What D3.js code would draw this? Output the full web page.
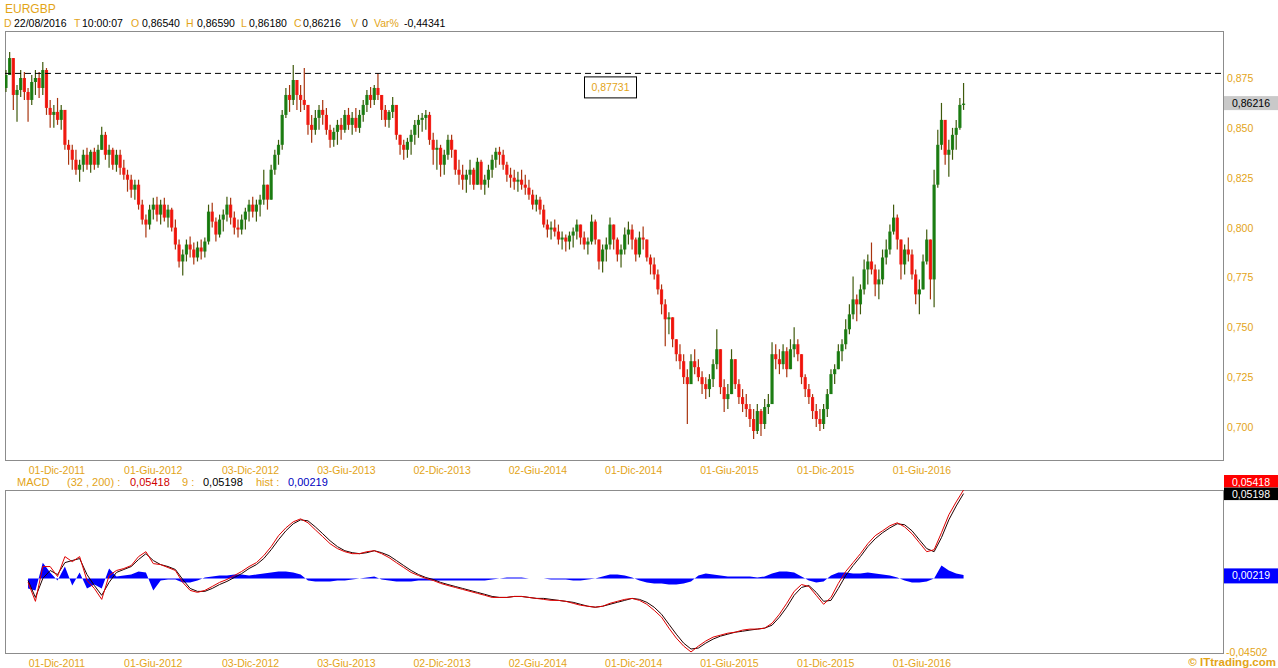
<!DOCTYPE html>
<html><head><meta charset="utf-8">
<script src="https://cdn.jsdelivr.net/npm/d3@7"></script>
<style>body{margin:0;background:#fff;}svg{display:block;font-family:"Liberation Sans",Arial,sans-serif;}</style>
</head><body><svg id="c" width="1278" height="668"></svg>
<script>
// ---------- DATA (weekly bars) ----------
const symbol = "EURGBP";
const firstWeek = "2011-08-26";
const firstOpen = 0.8700;
const high = [
0.879,0.888,0.885,0.8715,0.879,0.878,0.870,0.8765,0.879,0.878,
0.883,0.880,0.864,0.8615,0.865,0.8615,0.859,0.844,0.8415,0.839,
0.834,0.839,0.840,0.839,0.840,0.8415,0.8505,0.848,0.8415,0.840,
0.839,0.839,0.834,0.829,0.8265,0.824,0.824,0.814,0.8065,0.8115,
0.815,0.8155,0.814,0.815,0.8115,0.810,0.804,0.794,0.789,0.794,
0.7955,0.7925,0.793,0.794,0.795,0.8115,0.8125,0.805,0.8065,0.809,
0.8155,0.815,0.808,0.804,0.8065,0.810,0.814,0.8155,0.814,0.8165,
0.829,0.8215,0.8315,0.839,0.844,0.859,0.870,0.8715,0.8815,0.874,
0.8715,0.880,0.8615,0.8565,0.859,0.8615,0.864,0.860,0.8515,0.850,
0.854,0.855,0.859,0.860,0.858,0.860,0.859,0.864,0.869,0.8705,
0.8715,0.8775,0.8665,0.8615,0.859,0.8655,0.8615,0.8465,0.844,0.845,
0.849,0.854,0.8565,0.8575,0.859,0.858,0.8475,0.844,0.8415,0.839,
0.8465,0.8465,0.839,0.834,0.8315,0.829,0.834,0.830,0.835,0.834,
0.8265,0.8315,0.8365,0.840,0.8405,0.839,0.833,0.830,0.829,0.828,
0.829,0.8265,0.824,0.819,0.8165,0.8155,0.8115,0.804,0.803,0.804,
0.8015,0.798,0.7965,0.798,0.800,0.804,0.8015,0.798,0.795,0.8065,
0.804,0.794,0.7915,0.795,0.805,0.8015,0.795,0.7915,0.800,0.803,
0.8015,0.795,0.798,0.8005,0.794,0.7865,0.785,0.779,0.7715,0.764,
0.7575,0.755,0.744,0.7415,0.7365,0.729,0.7365,0.739,0.734,0.728,
0.725,0.7265,0.734,0.749,0.739,0.724,0.7215,0.739,0.734,0.724,
0.719,0.7165,0.7115,0.709,0.7115,0.709,0.714,0.7165,0.7425,0.7415,
0.739,0.7415,0.740,0.744,0.750,0.744,0.7365,0.7265,0.7215,0.7165,
0.7115,0.709,0.7115,0.719,0.729,0.7315,0.7415,0.744,0.754,0.7615,
0.7755,0.7665,0.7715,0.784,0.7865,0.7925,0.7815,0.779,0.789,0.794,
0.8015,0.8115,0.8065,0.794,0.7915,0.795,0.789,0.779,0.774,0.7865,
0.799,0.794,0.829,0.849,0.8625,0.854,0.844,0.850,0.854,0.865,0.8725];
const low = [
0.868,0.8765,0.859,0.853,0.8655,0.864,0.853,0.8615,0.8665,0.865,
0.8665,0.8565,0.850,0.850,0.8515,0.849,0.839,0.8315,0.829,0.8265,
0.823,0.828,0.829,0.8275,0.829,0.830,0.839,0.834,0.830,0.829,
0.828,0.8265,0.824,0.818,0.815,0.814,0.809,0.8015,0.795,0.799,
0.804,0.803,0.8015,0.803,0.800,0.798,0.789,0.780,0.776,0.783,
0.785,0.7815,0.783,0.784,0.785,0.7915,0.800,0.793,0.795,0.798,
0.803,0.8015,0.7965,0.795,0.7965,0.799,0.803,0.805,0.803,0.8055,
0.8115,0.809,0.814,0.8265,0.8315,0.839,0.855,0.858,0.8615,0.859,
0.858,0.859,0.8465,0.8425,0.8465,0.849,0.8515,0.8465,0.840,0.8405,
0.8415,0.844,0.8475,0.849,0.8465,0.848,0.8475,0.853,0.858,0.860,
0.8615,0.864,0.854,0.8505,0.850,0.855,0.844,0.8365,0.834,0.835,
0.8365,0.8415,0.845,0.848,0.849,0.8415,0.8315,0.829,0.8255,0.8265,
0.834,0.835,0.8265,0.8215,0.819,0.8175,0.8215,0.819,0.8215,0.819,
0.8165,0.820,0.825,0.830,0.8315,0.829,0.823,0.820,0.819,0.818,
0.819,0.8165,0.814,0.809,0.808,0.8065,0.800,0.795,0.794,0.7955,
0.7915,0.789,0.788,0.789,0.790,0.794,0.7915,0.789,0.7865,0.7915,
0.7915,0.779,0.7775,0.783,0.789,0.789,0.783,0.780,0.7865,0.7915,
0.789,0.783,0.785,0.789,0.783,0.7765,0.774,0.7665,0.7565,0.7405,
0.7465,0.740,0.733,0.729,0.7215,0.7015,0.7215,0.7265,0.723,0.7165,
0.714,0.715,0.720,0.729,0.7165,0.7075,0.709,0.7165,0.719,0.7115,
0.7075,0.705,0.700,0.694,0.6965,0.6955,0.699,0.7065,0.7115,0.729,
0.7265,0.729,0.725,0.7315,0.735,0.733,0.7215,0.715,0.7115,0.704,
0.700,0.698,0.699,0.705,0.7165,0.7215,0.729,0.733,0.739,0.7465,
0.754,0.753,0.7565,0.7665,0.7715,0.7765,0.7655,0.764,0.7715,0.7815,
0.7865,0.7965,0.789,0.774,0.7765,0.783,0.774,0.7615,0.7565,0.769,
0.7815,0.764,0.760,0.820,0.839,0.8315,0.8255,0.834,0.839,0.849,0.859];
const close = [
0.8765,0.885,0.8665,0.869,0.875,0.868,0.864,0.873,0.875,0.870,
0.879,0.860,0.8565,0.858,0.854,0.859,0.8415,0.839,0.834,0.829,
0.8315,0.8365,0.8315,0.838,0.8315,0.839,0.8465,0.8365,0.839,0.8315,
0.8365,0.830,0.8265,0.824,0.819,0.8215,0.8115,0.804,0.8015,0.809,
0.8115,0.8065,0.8115,0.805,0.809,0.800,0.7915,0.783,0.7865,0.7915,
0.789,0.785,0.790,0.788,0.793,0.808,0.803,0.7965,0.804,0.8065,
0.8115,0.805,0.800,0.799,0.804,0.808,0.8115,0.808,0.8115,0.814,
0.8215,0.814,0.829,0.8365,0.8415,0.8565,0.8665,0.864,0.874,0.8665,
0.864,0.8615,0.8515,0.849,0.855,0.859,0.8565,0.849,0.844,0.848,
0.8515,0.849,0.8565,0.8515,0.855,0.850,0.8565,0.8615,0.8665,0.864,
0.870,0.8665,0.859,0.854,0.858,0.8615,0.8465,0.8415,0.839,0.843,
0.8465,0.8515,0.854,0.855,0.8565,0.844,0.839,0.840,0.8315,0.8365,
0.844,0.839,0.829,0.8265,0.824,0.8265,0.829,0.8215,0.833,0.8215,
0.824,0.829,0.834,0.838,0.8365,0.8315,0.8265,0.825,0.823,0.824,
0.8215,0.820,0.8165,0.8115,0.814,0.809,0.8015,0.799,0.800,0.798,
0.794,0.795,0.793,0.796,0.798,0.8015,0.795,0.7915,0.793,0.803,
0.794,0.783,0.789,0.7915,0.8015,0.794,0.7865,0.789,0.7965,0.799,
0.794,0.7865,0.795,0.794,0.785,0.7815,0.7765,0.769,0.7615,0.754,
0.755,0.744,0.7365,0.733,0.725,0.7215,0.733,0.730,0.725,0.7215,
0.719,0.724,0.7315,0.739,0.720,0.714,0.7165,0.734,0.7215,0.715,
0.7115,0.709,0.704,0.698,0.708,0.7015,0.710,0.7115,0.7365,0.734,
0.7315,0.738,0.729,0.739,0.7415,0.7365,0.725,0.719,0.715,0.708,
0.704,0.7015,0.709,0.7165,0.7265,0.729,0.738,0.7415,0.749,0.7565,
0.764,0.7615,0.769,0.779,0.783,0.779,0.7715,0.774,0.785,0.789,
0.798,0.805,0.794,0.7815,0.789,0.7865,0.7765,0.7665,0.769,0.783,
0.794,0.774,0.8215,0.8415,0.854,0.8365,0.839,0.8465,0.850,0.8615,0.86216];

// MACD(32,200), signal 9, histogram: one sample every 2 weeks from week 6
const macdFirstWeek = 6, macdWeekStep = 2;
const macdLine = [
-0.0024,-0.0140,0.0073,0.0073,0.0012,0.0134,0.0103,0.0134,-0.0012,-0.0061,
-0.0128,0.0018,0.0049,0.0061,0.0079,0.0134,0.0164,0.0091,0.0085,0.0067,
0.0049,-0.0024,-0.0073,-0.0085,-0.0073,-0.0049,-0.0024,-0.0006,0.0018,0.0043,
0.0073,0.0097,0.0140,0.0195,0.0262,0.0310,0.0347,0.0365,0.0341,0.0298,
0.0256,0.0213,0.0183,0.0164,0.0152,0.0152,0.0164,0.0170,0.0152,0.0128,
0.0097,0.0067,0.0037,0.0018,0.0000,-0.0012,-0.0030,-0.0043,-0.0055,-0.0067,
-0.0079,-0.0091,-0.0103,-0.0116,-0.0116,-0.0116,-0.0110,-0.0110,-0.0116,-0.0122,
-0.0128,-0.0134,-0.0134,-0.0140,-0.0152,-0.0164,-0.0170,-0.0176,-0.0170,-0.0152,
-0.0140,-0.0128,-0.0122,-0.0134,-0.0158,-0.0195,-0.0237,-0.0304,-0.0365,-0.0414,
-0.0450,-0.0414,-0.0383,-0.0359,-0.0347,-0.0335,-0.0329,-0.0316,-0.0310,-0.0310,
-0.0304,-0.0274,-0.0219,-0.0152,-0.0079,-0.0037,-0.0049,-0.0103,-0.0158,-0.0116,
-0.0030,0.0043,0.0097,0.0152,0.0213,0.0262,0.0292,0.0323,0.0341,0.0316,
0.0274,0.0219,0.0164,0.0176,0.0280,0.0390,0.0469,0.05418];
const signalLine = [
-0.0012,-0.0116,0.0000,0.0049,0.0024,0.0097,0.0110,0.0122,0.0024,-0.0043,
-0.0103,-0.0024,0.0037,0.0055,0.0073,0.0116,0.0152,0.0110,0.0085,0.0073,
0.0055,-0.0006,-0.0061,-0.0079,-0.0079,-0.0061,-0.0037,-0.0018,0.0006,0.0030,
0.0061,0.0085,0.0122,0.0176,0.0237,0.0292,0.0335,0.0359,0.0353,0.0316,
0.0274,0.0231,0.0195,0.0170,0.0158,0.0152,0.0158,0.0170,0.0158,0.0140,
0.0110,0.0079,0.0049,0.0024,0.0006,-0.0006,-0.0024,-0.0037,-0.0049,-0.0061,
-0.0073,-0.0085,-0.0097,-0.0110,-0.0116,-0.0116,-0.0110,-0.0110,-0.0116,-0.0122,
-0.0122,-0.0128,-0.0134,-0.0140,-0.0146,-0.0158,-0.0170,-0.0176,-0.0170,-0.0158,
-0.0146,-0.0134,-0.0122,-0.0128,-0.0146,-0.0176,-0.0219,-0.0280,-0.0341,-0.0396,
-0.0432,-0.0426,-0.0396,-0.0371,-0.0353,-0.0341,-0.0329,-0.0323,-0.0316,-0.0310,
-0.0304,-0.0286,-0.0237,-0.0176,-0.0103,-0.0055,-0.0043,-0.0085,-0.0140,-0.0134,
-0.0061,0.0018,0.0079,0.0134,0.0195,0.0243,0.0280,0.0310,0.0335,0.0329,
0.0292,0.0237,0.0183,0.0164,0.0250,0.0359,0.0444,0.05198];
const histValues = [
-0.0061,-0.0073,0.0097,0.0037,-0.0012,0.0073,-0.0043,0.0037,-0.0061,-0.0037,
-0.0061,0.0061,0.0012,0.0018,0.0024,0.0043,0.0037,-0.0073,-0.0012,-0.0006,
-0.0006,-0.0024,-0.0024,-0.0012,0.0006,0.0012,0.0018,0.0018,0.0024,0.0024,
0.0018,0.0024,0.0030,0.0037,0.0043,0.0043,0.0037,0.0024,-0.0012,-0.0018,
-0.0018,-0.0018,-0.0012,-0.0012,-0.0006,0.0000,0.0006,0.0012,-0.0006,-0.0012,
-0.0018,-0.0018,-0.0018,-0.0012,-0.0012,-0.0012,-0.0012,-0.0012,-0.0012,-0.0012,
-0.0012,-0.0012,-0.0012,-0.0006,0.0000,0.0006,0.0006,0.0006,0.0000,0.0000,
0.0000,-0.0006,-0.0006,-0.0006,-0.0012,-0.0012,-0.0006,0.0000,0.0012,0.0024,
0.0024,0.0018,0.0006,-0.0012,-0.0024,-0.0030,-0.0030,-0.0037,-0.0037,-0.0030,
-0.0018,0.0018,0.0030,0.0024,0.0018,0.0012,0.0012,0.0012,0.0012,0.0006,
0.0012,0.0030,0.0043,0.0043,0.0037,0.0012,-0.0012,-0.0024,-0.0018,0.0018,
0.0037,0.0037,0.0030,0.0030,0.0037,0.0030,0.0024,0.0018,0.0006,-0.0012,
-0.0024,-0.0024,-0.0018,0.0000,0.0079,0.0049,0.0030,0.00219];

const tickDates = ["2011-12-01","2012-06-01","2012-12-03","2013-06-03","2013-12-02","2014-06-02","2014-12-01","2015-06-01","2015-12-01","2016-06-01"];
const tickLabels = ["01-Dic-2011","01-Giu-2012","03-Dic-2012","03-Giu-2013","02-Dic-2013","02-Giu-2014","01-Dic-2014","01-Giu-2015","01-Dic-2015","01-Giu-2016"];
const priceTicks = [0.700,0.725,0.750,0.775,0.800,0.825,0.850,0.875];
const refLevel = 0.87731;
const macdMin = -0.04502, macdMax = 0.05418;
const lastDay = {date:"22/08/2016", time:"10:00:07", open:0.86540, high:0.86590, low:0.86180, close:0.86216, volume:0, varPct:-0.44341};
const macdParams = [32, 200, 9];

// ---------- DRAWING ----------
const ORANGE = "#e3a417", GRID = "#8c8c8c";
const svg = d3.select("#c");
const parse = d3.utcParse("%Y-%m-%d");
const fmt = (v, d) => d3.format("." + d + "f")(v).replace(".", ",").replace("−", "-");

const P = {l: 5, r: 1223, t: 31, b: 460};      // price panel
const M = {l: 5, r: 1223, t: 490, b: 653};     // MACD panel

const x = d3.scaleUtc().domain([parse(tickDates[0]), parse(tickDates[tickDates.length - 1])]).range([57, 922]);
const y = d3.scaleLinear().domain([0.700, 0.875]).range([427, 78]);
const ym = d3.scaleLinear().domain([macdMin, macdMax]).range([652, 490]);

const start = parse(firstWeek);
const bars = close.map((c, i) => ({
  date: d3.utcDay.offset(start, 7 * i),
  o: i ? close[i - 1] : firstOpen, h: high[i], l: low[i], c
}));
const macdPts = macdLine.map((m, k) => ({
  date: d3.utcDay.offset(start, 7 * (macdFirstWeek + macdWeekStep * k)),
  m, s: signalLine[k], h: histValues[k]
}));

const defs = svg.append("defs");
defs.append("clipPath").attr("id", "cp").append("rect")
  .attr("x", P.l).attr("y", P.t).attr("width", P.r - P.l).attr("height", P.b - P.t);
defs.append("clipPath").attr("id", "cm").append("rect")
  .attr("x", M.l).attr("y", M.t - 2).attr("width", M.r - M.l).attr("height", M.b - M.t + 2);

svg.append("rect").attr("x", P.l + 0.5).attr("y", P.t + 0.5).attr("width", P.r - P.l).attr("height", P.b - P.t)
  .attr("fill", "none").attr("stroke", GRID);
svg.append("rect").attr("x", M.l + 0.5).attr("y", M.t + 0.5).attr("width", M.r - M.l).attr("height", M.b - M.t)
  .attr("fill", "none").attr("stroke", GRID);

// header
svg.append("text").attr("x", 5).attr("y", 13).attr("font-size", 12).attr("fill", ORANGE).text(symbol);
const hdr = [
  ["D", ORANGE, 4], [lastDay.date, "#000", 14], ["T", ORANGE, 74], [lastDay.time, "#000", 82],
  ["O", ORANGE, 131], [fmt(lastDay.open, 5), "#000", 142], ["H", ORANGE, 186], [fmt(lastDay.high, 5), "#000", 197],
  ["L", ORANGE, 241], [fmt(lastDay.low, 5), "#000", 249], ["C", ORANGE, 294], [fmt(lastDay.close, 5), "#000", 303],
  ["V", ORANGE, 351], [String(lastDay.volume), "#000", 362], ["Var%", ORANGE, 374], [fmt(lastDay.varPct, 5), "#000", 404]
];
svg.append("g").selectAll("text").data(hdr).join("text")
  .attr("x", d => d[2]).attr("y", 27).attr("font-size", 10.5).attr("fill", d => d[1]).text(d => d[0]);

// price y labels
svg.append("g").selectAll("text").data(priceTicks).join("text")
  .attr("x", 1227).attr("y", d => y(d) + 4).attr("font-size", 10.5).attr("fill", ORANGE)
  .text(d => fmt(d, 3));

// x labels (both panels)
[474, 667].forEach(yy => {
  svg.append("g").selectAll("text").data(tickDates).join("text")
    .attr("x", d => x(parse(d))).attr("y", yy).attr("text-anchor", "middle")
    .attr("font-size", 10.5).attr("fill", ORANGE).text((d, i) => tickLabels[i]);
});

// candles
const gC = svg.append("g").attr("clip-path", "url(#cp)");
const UP = "#137a0c", DN = "#f2110a";
gC.selectAll("line").data(bars).join("line")
  .attr("x1", d => x(d.date)).attr("x2", d => x(d.date))
  .attr("y1", d => y(Math.max(d.h, d.o, d.c))).attr("y2", d => y(Math.min(d.l, d.o, d.c)))
  .attr("stroke", d => d.c >= d.o ? "#3f5a0c" : "#a8340e").attr("stroke-width", 1.2);
gC.selectAll("rect").data(bars).join("rect")
  .attr("x", d => x(d.date) - 1.6).attr("width", 3.2)
  .attr("y", d => y(Math.max(d.o, d.c)))
  .attr("height", d => Math.max(1, Math.abs(y(d.o) - y(d.c))))
  .attr("fill", d => d.c >= d.o ? UP : DN).attr("fill-opacity", 0.92);

// reference dashed line + box
svg.append("line").attr("x1", P.l).attr("x2", P.r).attr("y1", y(refLevel)).attr("y2", y(refLevel))
  .attr("stroke", "#000").attr("stroke-dasharray", "6,4");
svg.append("rect").attr("x", 584.5).attr("y", y(refLevel) + 3.5).attr("width", 52).attr("height", 21)
  .attr("fill", "#fff").attr("stroke", "#000");
svg.append("text").attr("x", 610.5).attr("y", y(refLevel) + 18).attr("text-anchor", "middle")
  .attr("font-size", 10.5).attr("fill", ORANGE).text(fmt(refLevel, 5));

// last price box
const lc = close[close.length - 1];
svg.append("rect").attr("x", 1224).attr("y", y(lc) - 7.5).attr("width", 54).attr("height", 14).attr("fill", "#c9c9c9");
svg.append("text").attr("x", 1251).attr("y", y(lc) + 3.5).attr("text-anchor", "middle")
  .attr("font-size", 10.5).attr("fill", "#000").text(fmt(lc, 5));

// MACD panel
const gM = svg.append("g").attr("clip-path", "url(#cm)");
gM.append("path").datum(macdPts)
  .attr("d", d3.area().x(d => x(d.date)).y0(ym(0)).y1(d => ym(d.h)))
  .attr("fill", "#0000ff");
gM.append("path").datum(macdPts)
  .attr("d", d3.line().x(d => x(d.date)).y(d => ym(d.s)))
  .attr("fill", "none").attr("stroke", "#200000").attr("stroke-width", 1);
gM.append("path").datum(macdPts)
  .attr("d", d3.line().x(d => x(d.date)).y(d => ym(d.m)))
  .attr("fill", "none").attr("stroke", "#e00000").attr("stroke-width", 1);

// MACD legend row
const lastM = macdLine[macdLine.length - 1], lastS = signalLine[signalLine.length - 1], lastH = histValues[histValues.length - 1];
const leg = [
  ["MACD", ORANGE, 17], ["(" + macdParams[0] + " , " + macdParams[1] + ") :", ORANGE, 67], [fmt(lastM, 5), "#d00000", 130],
  [macdParams[2] + " :", ORANGE, 182], [fmt(lastS, 5), "#000", 203], ["hist :", ORANGE, 256], [fmt(lastH, 5), "#0000c0", 288]
];
svg.append("g").selectAll("text").data(leg).join("text")
  .attr("x", d => d[2]).attr("y", 485.5).attr("font-size", 11).attr("fill", d => d[1]).text(d => d[0]);

// MACD value boxes
const boxes = [
  {v: lastM, cy: ym(lastM) - 8.5, fill: "#ff0000", h: 12.5},
  {v: lastS, cy: ym(lastS) + 0.5, fill: "#000000", h: 12.5},
  {v: lastH, cy: ym(lastH), fill: "#0000ff", h: 15}
];
boxes.forEach(b => {
  svg.append("rect").attr("x", 1224).attr("y", b.cy - 6.5).attr("width", 54).attr("height", b.h).attr("fill", b.fill);
  svg.append("text").attr("x", 1251).attr("y", b.cy + 4).attr("text-anchor", "middle")
    .attr("font-size", 10.5).attr("fill", "#fff").text(fmt(b.v, 5));
});
svg.append("text").attr("x", 1226).attr("y", ym(macdMin) + 4).attr("font-size", 10.5).attr("fill", ORANGE).text(fmt(macdMin, 5));

// credit
svg.append("text").attr("x", 1276).attr("y", 666).attr("text-anchor", "end")
  .attr("font-size", 11.5).attr("font-weight", "bold").attr("fill", ORANGE).text("© ITtrading.com");
</script></body></html>
